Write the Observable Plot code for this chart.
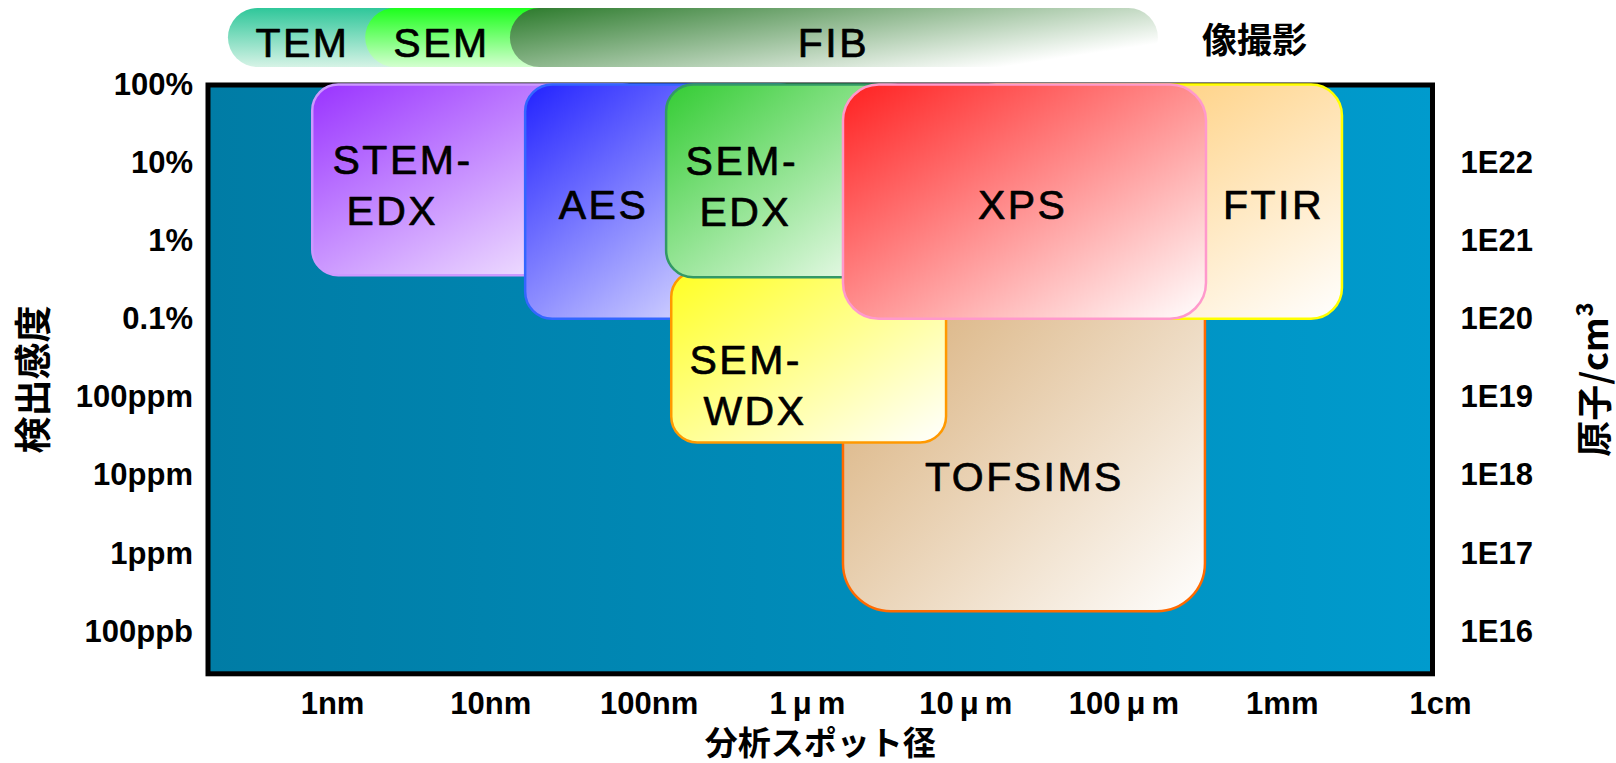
<!DOCTYPE html>
<html>
<head>
<meta charset="utf-8">
<script src="https://cdn.jsdelivr.net/npm/d3@7"></script>
<script src="https://cdn.jsdelivr.net/npm/@observablehq/plot@0.6"></script>
<style>
  html, body { margin: 0; padding: 0; background: #fff; overflow: hidden; }
  #chart svg { display: block; }
  g[font-size="41"] text { letter-spacing: 2.5px; }
</style>
</head>
<body>
<div id="chart"></div>
<script>
// Analysis techniques: spot size (nm) vs. detection sensitivity (atomic fraction)
const methods  = ["TOFSIMS", "FTIR", "STEM-EDX", "AES", "SEM-WDX", "SEM-EDX", "XPS"];
const spotMin  = [1690, 10000, 0.75, 16.6, 139, 129, 1690];
const spotMax  = [327000, 2400000, 100, 1000, 7570, 5000, 332000];
const sensMin  = [1.8e-7, 0.001, 0.0036, 0.001, 2.6e-5, 0.0034, 0.001];
const sensMax  = [0.01, 1, 1, 1, 0.0041, 1, 1];

// Method labels and where they sit (spot size nm, sensitivity)
const labelText = ["TOFSIMS", "FTIR", "STEM-\n\u00a0EDX", "AES", "SEM-\n\u00a0WDX", "SEM-\n\u00a0EDX", "XPS"];
const labelSpot = [23500, 880000, 1, 51.5, 180, 170, 22900];
const labelSens = [9.2e-6, 0.0286, 0.0556, 0.0286, 1.53e-4, 0.054, 0.0286];

// Imaging resolution ranges (top band)
const imaging      = ["TEM", "SEM", "FIB"];
const imgMin       = [0.22, 1.62, 13.3];
const imgMax       = [5, 100, 165000];
const imgLabelSpot = [0.646, 4.88, 1460];
const imagingTitle = "像撮影";

// Axis ticks and labels
const spotTicks     = [1, 10, 100, 1e3, 1e4, 1e5, 1e6, 1e7];
const spotLabels    = ["1nm", "10nm", "100nm", "1μm", "10μm", "100μm", "1mm", "1cm"];
const sensTicks     = [1, 0.1, 0.01, 0.001, 1e-4, 1e-5, 1e-6, 1e-7];
const sensLabels    = ["100%", "10%", "1%", "0.1%", "100ppm", "10ppm", "1ppm", "100ppb"];
const densityTicks  = [0.1, 0.01, 0.001, 1e-4, 1e-5, 1e-6, 1e-7];
const densityLabels = ["1E22", "1E21", "1E20", "1E19", "1E18", "1E17", "1E16"];

const xTitle = "分析スポット径";
const yTitle = "検出感度";
const y2Title = "原子/cm³";

// Styling
const boxStyle = {
  "TOFSIMS":  {from: "#d3a468", stroke: "#ff6a00", r: 48, align: "middle"},
  "FTIR":     {from: "#ffc25a", stroke: "#ffff00", r: 31, align: "middle"},
  "STEM-EDX": {from: "#9933ff", stroke: "#cc99ff", r: 26, align: "start"},
  "AES":      {from: "#2222ff", stroke: "#3366ff", r: 27, align: "middle"},
  "SEM-WDX":  {from: "#ffff22", stroke: "#ff9900", r: 26, align: "start"},
  "SEM-EDX":  {from: "#33cc33", stroke: "#339966", r: 27, align: "start"},
  "XPS":      {from: "#ff2020", stroke: "#ff99cc", r: 36, align: "middle"}
};
const imgStyle = [
  {stops: [[0, "#2fc79a"], [1, "#d6f3e6"]], x2: 0, y2: 1},
  {stops: [[0, "#1cff1c"], [1, "#d4ffd0"]], x2: 0, y2: 1},
  {stops: [[0, "#2b7a2b"], [1, "#ffffff"]], x2: 1, y2: 0.6}
];

const latin = "'Liberation Sans', Arial, 'Noto Sans CJK JP', sans-serif";
const cjk = "'Noto Sans CJK JP', 'Liberation Sans', sans-serif";
const labelInk = {fontSize: 41, fill: "#000", stroke: "#000", strokeWidth: 0.7};

const xScale = {type: "log", domain: [10 ** -0.7866, 10 ** 6.949]};
const yScale = {type: "log", domain: [10 ** -7.539, 1]};
const W = 1616;
const ML = 207.5, MR = 184;

const pick = (ticks, labels) => d =>
  labels[ticks.findIndex(t => Math.abs(Math.log10(t) - Math.log10(d)) < 0.01)];

function addGradients(svg, grads) {
  const defs = d3.select(svg).insert("defs", ":first-child");
  for (const g of grads) {
    const lg = defs.append("linearGradient")
      .attr("id", g.id)
      .attr("x1", 0).attr("y1", 0)
      .attr("x2", g.x2).attr("y2", g.y2);
    for (const [o, c] of g.stops) lg.append("stop").attr("offset", o).attr("stop-color", c);
  }
}

// ---- top band: imaging resolution ----
const idxImg = d3.range(imaging.length);
const band = Plot.plot({
  width: W, height: 75,
  marginLeft: ML, marginRight: MR, marginTop: 8, marginBottom: 8,
  x: {...xScale, axis: null},
  y: {domain: [0, 1], axis: null},
  style: {fontFamily: latin, background: "#fff"},
  marks: [
    ...idxImg.map(i => Plot.rect([i], {
      x1: j => imgMin[j], x2: j => imgMax[j], y1: () => 0, y2: () => 1,
      rx: 29.5, fill: `url(#img-${i})`
    })),
    Plot.text(idxImg, {
      x: i => imgLabelSpot[i], y: () => 0.5, dy: 6,
      text: i => imaging[i], ...labelInk
    }),
    Plot.text([imagingTitle], {
      frameAnchor: "right", textAnchor: "middle", lineAnchor: "middle", dx: -178, dy: 4,
      fontSize: 35, fontWeight: "bold", fontFamily: cjk, fill: "#000"
    })
  ]
});
addGradients(band, idxImg.map(i => ({id: `img-${i}`, ...imgStyle[i]})));

// ---- main chart ----
const idx = d3.range(methods.length);
const main = Plot.plot({
  width: W, height: 688,
  marginLeft: ML, marginRight: MR, marginTop: 9.5, marginBottom: 89.7,
  x: xScale,
  y: yScale,
  style: {fontFamily: latin, background: "#fff", overflow: "visible"},
  marks: [
    Plot.frame({fill: "url(#bg-grad)", stroke: "#000", strokeWidth: 5}),
    ...idx.map(i => Plot.rect([i], {
      x1: j => spotMin[j], x2: j => spotMax[j],
      y1: j => sensMin[j], y2: j => sensMax[j],
      rx: boxStyle[methods[i]].r,
      fill: `url(#box-${i})`,
      stroke: boxStyle[methods[i]].stroke, strokeWidth: 2.5
    })),
    Plot.text(idx, {
      filter: i => boxStyle[methods[i]].align === "middle",
      x: i => labelSpot[i], y: i => labelSens[i], text: i => labelText[i],
      textAnchor: "middle", ...labelInk
    }),
    Plot.text(idx, {
      filter: i => boxStyle[methods[i]].align === "start",
      x: i => labelSpot[i], y: i => labelSens[i], text: i => labelText[i],
      textAnchor: "start", lineHeight: 1.24, ...labelInk
    }),
    Plot.axisY(sensTicks, {
      anchor: "left", tickSize: 0, tickPadding: 15, label: null,
      tickFormat: pick(sensTicks, sensLabels), fontSize: 31, fontWeight: "bold"
    }),
    Plot.axisY(densityTicks, {
      anchor: "right", tickSize: 0, tickPadding: 28, label: null,
      tickFormat: pick(densityTicks, densityLabels), fontSize: 31, fontWeight: "bold"
    }),
    Plot.axisX(spotTicks, {
      anchor: "bottom", tickSize: 0, tickPadding: 18, label: null,
      tickFormat: pick(spotTicks, spotLabels), fontSize: 31, fontWeight: "bold"
    }),
    Plot.text([xTitle], {
      frameAnchor: "bottom", textAnchor: "middle", lineAnchor: "middle", dy: 71,
      fontSize: 33, fontWeight: "bold", fontFamily: cjk, fill: "#000"
    }),
    Plot.text([yTitle], {
      frameAnchor: "left", textAnchor: "middle", lineAnchor: "middle", dx: -173, rotate: -90,
      fontSize: 37, fontWeight: "bold", fontFamily: cjk, fill: "#000"
    }),
    Plot.text([y2Title], {
      frameAnchor: "right", textAnchor: "middle", lineAnchor: "middle", dx: 164, rotate: -90,
      fontSize: 36, fontWeight: "bold", fontFamily: cjk, fill: "#000"
    })
  ]
});
addGradients(main, [
  {id: "bg-grad", x2: 1, y2: 0, stops: [[0, "#007ca5"], [1, "#009bcd"]]},
  ...idx.map(i => ({id: `box-${i}`, x2: 1, y2: 1, stops: [[0, boxStyle[methods[i]].from], [1, "#ffffff"]]}))
]);

// Spread out the micro sign in the micrometre tick labels
d3.select(main).selectAll("text")
  .filter(function () { return this.textContent.includes("μ") && !this.querySelector("tspan"); })
  .each(function () {
    const [pre, post] = this.textContent.split("μ");
    const t = d3.select(this).text(null);
    t.append("tspan").text(pre);
    t.append("tspan").attr("dx", 6).text("μ");
    t.append("tspan").attr("dx", 6).text(post);
  });

const host = document.getElementById("chart");
host.append(band, main);
</script>
</body>
</html>
